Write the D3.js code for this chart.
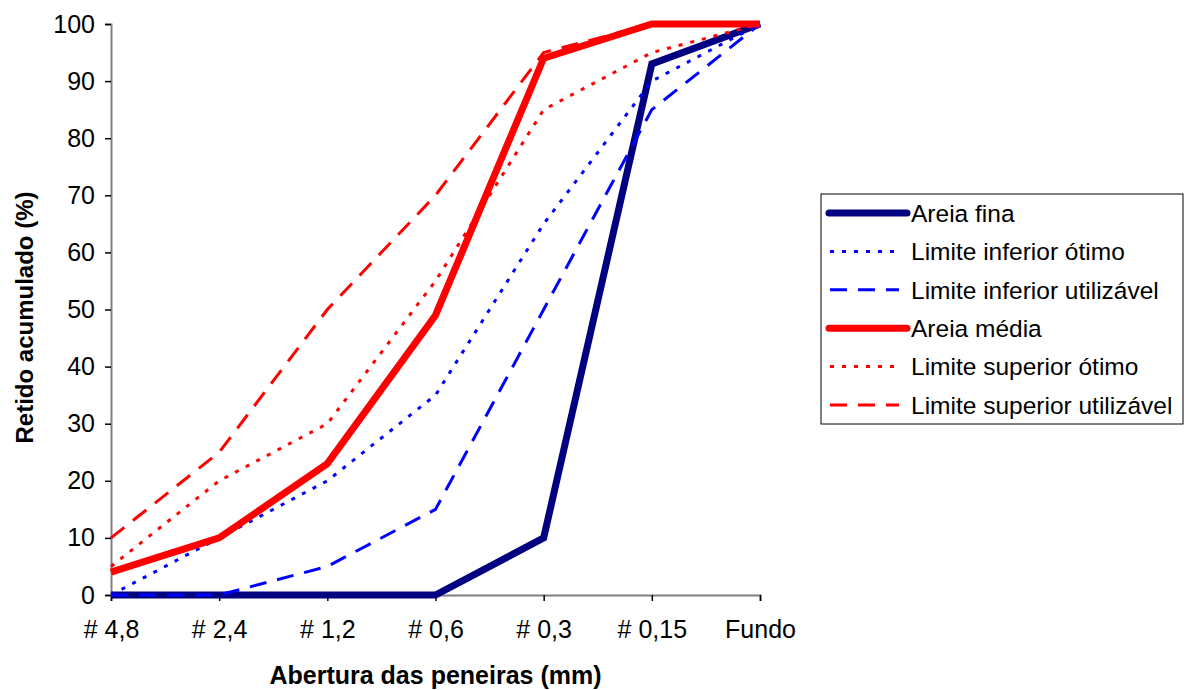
<!DOCTYPE html>
<html>
<head>
<meta charset="utf-8">
<script src="https://cdn.jsdelivr.net/npm/d3@7"></script>
<style>
  html, body { margin: 0; padding: 0; background: #fff; }
  svg { display: block; font-family: "Liberation Sans", Arial, sans-serif; }
</style>
</head>
<body>
<svg id="chart" width="1190" height="690"></svg>
<script>
// Sieve openings (categories) and cumulative retained percentages
const sieves = ["# 4,8", "# 2,4", "# 1,2", "# 0,6", "# 0,3", "# 0,15", "Fundo"];
const yTicks = [0, 10, 20, 30, 40, 50, 60, 70, 80, 90, 100];

const areiaFina            = [0, 0, 0, 0, 10, 93, 100];
const limInferiorOtimo     = [0, 10, 20, 35, 65, 90, 100];
const limInferiorUtil      = [0, 0, 5, 15, 50, 85, 100];
const areiaMedia           = [4, 10, 23, 49, 94, 100, 100];
const limSuperiorOtimo     = [5, 20, 30, 55, 85, 95, 100];
const limSuperiorUtil      = [10, 25, 50, 70, 95, 100, 100];

const seriesNames = [
  "Areia fina",
  "Limite inferior ótimo",
  "Limite inferior utilizável",
  "Areia média",
  "Limite superior ótimo",
  "Limite superior utilizável"
];

const series = [
  { name: seriesNames[0], values: areiaFina,        color: "#000080", width: 7, dash: null },
  { name: seriesNames[1], values: limInferiorOtimo, color: "#0000FF", width: 3, dash: "4,8" },
  { name: seriesNames[2], values: limInferiorUtil,  color: "#0000FF", width: 3, dash: "17,11" },
  { name: seriesNames[3], values: areiaMedia,       color: "#FF0000", width: 7, dash: null },
  { name: seriesNames[4], values: limSuperiorOtimo, color: "#FF0000", width: 3, dash: "4,8" },
  { name: seriesNames[5], values: limSuperiorUtil,  color: "#FF0000", width: 3, dash: "17,11" }
];

const svg = d3.select("#chart");
const plot = { left: 111, right: 760, top: 24, bottom: 595 };

const x = d3.scalePoint().domain(sieves).range([plot.left, plot.right]).padding(0);
const y = d3.scaleLinear().domain([0, 100]).range([plot.bottom, plot.top]);

// Y axis
const yAxis = svg.append("g")
  .attr("transform", `translate(${plot.left},0)`)
  .call(d3.axisLeft(y).tickValues(yTicks).tickSize(6).tickPadding(10));
yAxis.select(".domain").attr("stroke", "#808080").attr("stroke-width", 2);
yAxis.selectAll(".tick line").attr("stroke", "#000").attr("stroke-width", 1.5);
yAxis.selectAll(".tick text")
  .attr("font-size", 25).attr("fill", "#000")
  .attr("font-family", "Liberation Sans, Arial, sans-serif");

// X axis
const xAxis = svg.append("g")
  .attr("transform", `translate(0,${plot.bottom})`)
  .call(d3.axisBottom(x).tickSize(6).tickPadding(19));
xAxis.select(".domain").attr("stroke", "#808080").attr("stroke-width", 2);
xAxis.selectAll(".tick line").attr("stroke", "#000").attr("stroke-width", 1.5);
xAxis.selectAll(".tick text")
  .attr("font-size", 25).attr("fill", "#000")
  .attr("font-family", "Liberation Sans, Arial, sans-serif");

// Axis titles
svg.append("text")
  .attr("x", (plot.left + plot.right) / 2)
  .attr("y", 684)
  .attr("text-anchor", "middle")
  .attr("font-size", 25)
  .attr("font-weight", "bold")
  .text("Abertura das peneiras (mm)");

svg.append("text")
  .attr("transform", `translate(33,${(plot.top + plot.bottom) / 2 + 8}) rotate(-90)`)
  .attr("text-anchor", "middle")
  .attr("font-size", 24)
  .attr("font-weight", "bold")
  .text("Retido acumulado (%)");

// Series lines
const line = d3.line()
  .x((d, i) => x(sieves[i]))
  .y(d => y(d))
  .curve(d3.curveLinear);

svg.append("g").selectAll("path")
  .data(series)
  .join("path")
  .attr("d", d => line(d.values))
  .attr("fill", "none")
  .attr("stroke", d => d.color)
  .attr("stroke-width", d => d.width)
  .attr("stroke-dasharray", d => d.dash)
  .attr("stroke-linejoin", "miter")
  .attr("stroke-linecap", "butt");

// Legend
const legend = svg.append("g").attr("transform", "translate(821,194)");
legend.append("rect")
  .attr("x", 0).attr("y", 0)
  .attr("width", 362).attr("height", 230)
  .attr("fill", "#fff")
  .attr("stroke", "#000")
  .attr("stroke-width", 1);

const rowY = d3.scalePoint().domain(seriesNames).range([19, 211]);

const rows = legend.selectAll("g.row")
  .data(series)
  .join("g")
  .attr("class", "row")
  .attr("transform", d => `translate(0,${rowY(d.name)})`);

rows.append("line")
  .attr("x1", d => d.dash ? 9 : 8)
  .attr("x2", d => d.dash ? 78 : 86)
  .attr("y1", 0).attr("y2", 0)
  .attr("stroke", d => d.color)
  .attr("stroke-width", d => d.width)
  .attr("stroke-dasharray", d => d.dash)
  .attr("stroke-linecap", d => d.dash ? "butt" : "round");

rows.append("text")
  .attr("x", 90)
  .attr("y", 0)
  .attr("dy", "0.36em")
  .attr("font-size", 24.5)
  .attr("fill", "#000")
  .text(d => d.name);
</script>
</body>
</html>
